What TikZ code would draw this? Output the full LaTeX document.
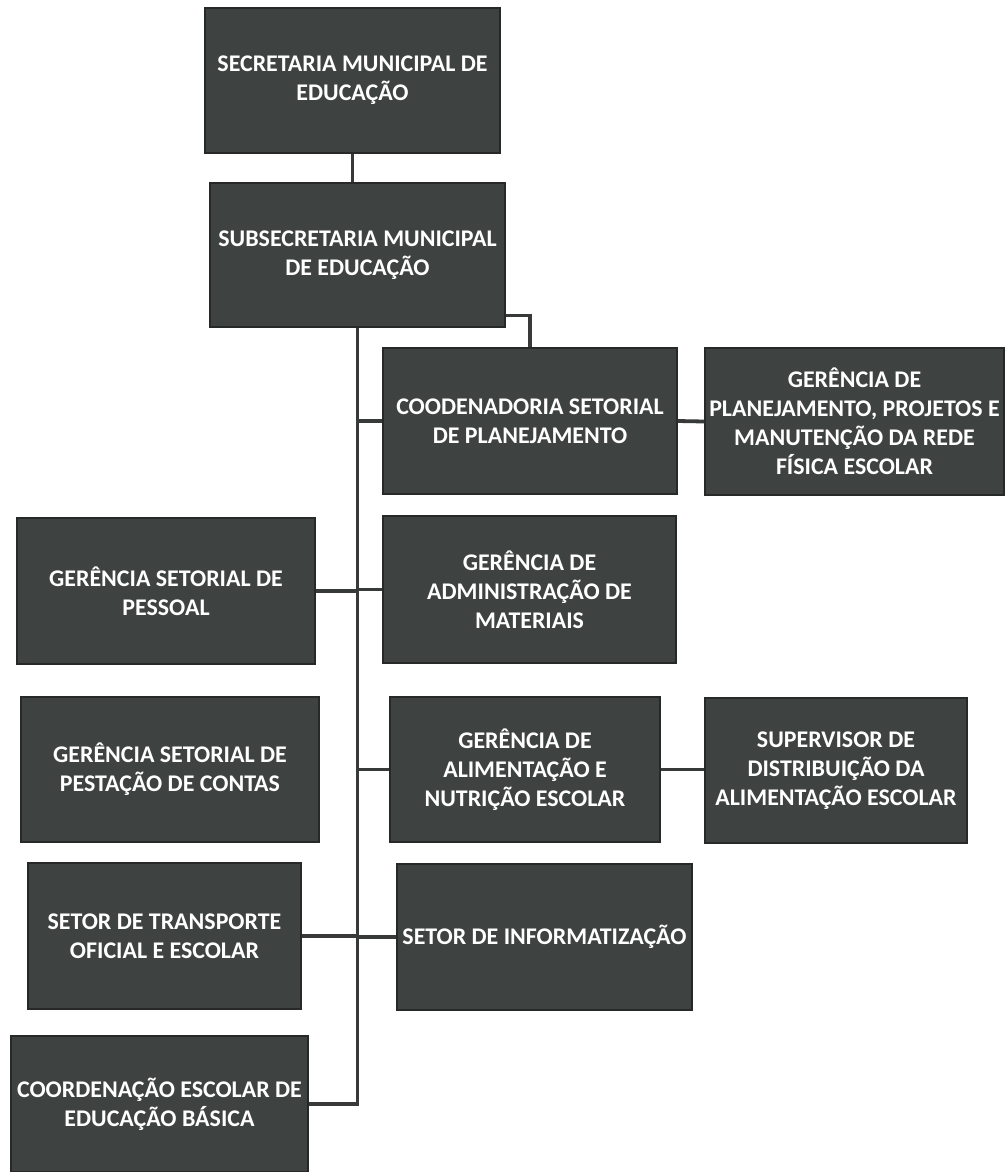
\documentclass[tikz,border=0pt]{standalone}
\usepackage{fontspec}
\setmainfont{Carlito}
\usetikzlibrary{calc}
\definecolor{boxgrey}{RGB}{62,67,65}
\definecolor{boxedge}{RGB}{38,41,40}
\definecolor{linegrey}{RGB}{55,58,57}
\begin{document}
\begin{tikzpicture}[x=0.025cm, y=-0.025cm,
    orgbox/.style={fill=boxgrey, draw=boxedge, line width=0.8pt, text=white,
      align=center, inner sep=0pt,
      font=\fontsize{17}{20.6}\selectfont\bfseries},
    link/.style={draw=linegrey, line width=2.7pt}]
  \fill[white] (0,0) rectangle (1007,1172);
  \useasboundingbox (0,0) rectangle (1007,1172);
  % top of the chart
  \node[orgbox, minimum width=7.375cm, minimum height=3.625cm] (sec) at (352.5,80.5)
    {SECRETARIA MUNICIPAL DE\\EDUCAÇÃO};
  \node[orgbox, minimum width=7.375cm, minimum height=3.6cm] (sub) at (357.5,255)
    {SUBSECRETARIA MUNICIPAL\\DE EDUCAÇÃO};
  % right column
  \node[orgbox, minimum width=7.35cm, minimum height=3.65cm] (csp) at (530,421)
    {COODENADORIA SETORIAL\\DE PLANEJAMENTO};
  \node[orgbox, minimum width=7.475cm, minimum height=3.675cm] (gpp) at (854.5,421.5)
    {GERÊNCIA DE\\PLANEJAMENTO, PROJETOS E\\MANUTENÇÃO DA REDE\\FÍSICA ESCOLAR};
  \node[orgbox, minimum width=7.325cm, minimum height=3.675cm] (gam) at (529.5,589.5)
    {GERÊNCIA DE\\ADMINISTRAÇÃO DE\\MATERIAIS};
  \node[orgbox, minimum width=6.75cm, minimum height=3.625cm] (gan) at (525,769.5)
    {GERÊNCIA DE\\ALIMENTAÇÃO E\\NUTRIÇÃO ESCOLAR};
  \node[orgbox, minimum width=6.55cm, minimum height=3.625cm] (sup) at (836,770.5)
    {SUPERVISOR DE\\DISTRIBUIÇÃO DA\\ALIMENTAÇÃO ESCOLAR};
  \node[orgbox, minimum width=7.375cm, minimum height=3.65cm] (sin) at (544.5,937)
    {SETOR DE INFORMATIZAÇÃO};
  % left column
  \node[orgbox, minimum width=7.45cm, minimum height=3.65cm] (gsp) at (166,591)
    {GERÊNCIA SETORIAL DE\\PESSOAL};
  \node[orgbox, minimum width=7.45cm, minimum height=3.625cm] (gpc) at (170,769.5)
    {GERÊNCIA SETORIAL DE\\PESTAÇÃO DE CONTAS};
  \node[orgbox, minimum width=6.825cm, minimum height=3.65cm] (str) at (164.5,936)
    {SETOR DE TRANSPORTE\\OFICIAL E ESCOLAR};
  \node[orgbox, minimum width=7.425cm, minimum height=3.4cm] (ceb) at (159.5,1104)
    {COORDENAÇÃO ESCOLAR DE\\EDUCAÇÃO BÁSICA};
  % connectors
  \draw[link] (sec.south) -- (sec.south |- sub.north);
  \draw[link] (sub.south) -- (sub.south |- ceb.east) -- (ceb.east);
  \draw[link] ($(sub.south east)+(0,-12)$) -| (csp.north);
  \foreach \n in {csp,gam,gan,sin}
    \draw[link] (sub.south |- \n.west) -- (\n.west);
  \foreach \n in {gsp,str}
    \draw[link] (\n.east) -- (sub.south |- \n.east);
  \draw[link] (csp.east) -- (gpp.west);
  \draw[link] (gan.east) -- (gan.east -| sup.west);
\end{tikzpicture}
\end{document}
